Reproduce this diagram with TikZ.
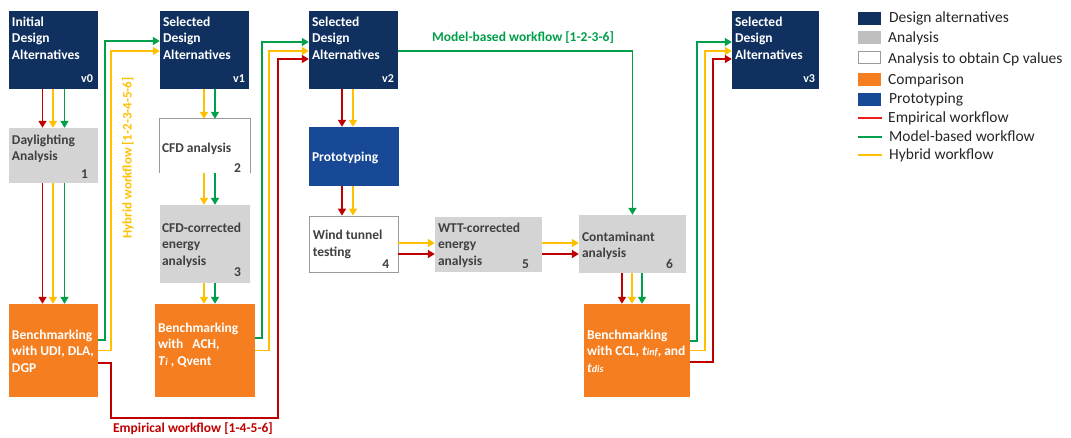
\documentclass[tikz,border=0pt]{standalone}
\usepackage{fontspec}
\setmainfont{Carlito}
\usetikzlibrary{arrows.meta,calc}

\definecolor{navy}{HTML}{10305F}
\definecolor{protoblue}{HTML}{184996}
\definecolor{compor}{HTML}{F47E20}
\definecolor{anagray}{HTML}{D4D4D4}
\definecolor{swgray}{HTML}{BFBFBF}
\definecolor{cpline}{HTML}{9A9A9A}
\definecolor{txtgray}{HTML}{404040}
\definecolor{empc}{HTML}{C00000}
\definecolor{modc}{HTML}{00A04A}
\definecolor{hybc}{HTML}{FFC000}
\definecolor{legred}{HTML}{F01A1A}
\definecolor{legtext}{HTML}{262626}

\newcommand{\boxfont}{\fontsize{13.5}{16.5}\selectfont\bfseries}
\newcommand{\smallit}[1]{{\fontsize{10}{10}\selectfont\itshape #1}}

\begin{document}
\begin{tikzpicture}[x=1pt,y=-1pt,
  blk/.style={rectangle, inner sep=0pt, draw=none},
  designbox/.style={blk, fill=navy},
  anabox/.style={blk, fill=anagray},
  cpbox/.style={blk, fill=white, draw=cpline, line width=0.8pt},
  compbox/.style={blk, fill=compor},
  protobox/.style={blk, fill=protoblue},
  bt/.style={font=\boxfont, align=left, anchor=north west, inner sep=0pt},
  wt/.style={bt, text=white},
  gt/.style={bt, text=txtgray},
  num/.style={font=\boxfont, anchor=base east, inner sep=0pt, text=txtgray},
  ver/.style={font=\fontsize{12}{12}\selectfont\bfseries, anchor=base east, inner sep=0pt, text=white},
  flow/.style={line width=1.6pt, -{Triangle[length=7pt,width=8pt]}},
  wire/.style={line width=1.5pt, -{Triangle[length=7pt,width=8pt]}},
  emp/.style={draw=empc},
  mod/.style={draw=modc},
  hyb/.style={draw=hybc},
  lbl/.style={font=\fontsize{13.5}{16}\selectfont\bfseries, inner sep=0pt},
  swatch/.style={rectangle, inner sep=0pt, minimum width=23pt, minimum height=13pt},
  legtxt/.style={font=\fontsize{15.5}{18}\selectfont, text=legtext, anchor=base west, inner sep=0pt}
]
\useasboundingbox[fill=white] (0,0) rectangle (1071,437);

% ---------- boxes ----------
\node[designbox, minimum width=89pt, minimum height=78pt] (v0) at (53.5,50) {};
\node[designbox, minimum width=89pt, minimum height=78pt] (v1) at (204.5,50) {};
\node[designbox, minimum width=89pt, minimum height=78pt] (v2) at (353.5,50) {};
\node[designbox, minimum width=87pt, minimum height=78pt] (v3) at (775.5,50) {};
\node[anabox, minimum width=89pt, minimum height=55pt] (day) at (53.5,155.5) {};
\node[blk, fill=white, minimum width=90pt, minimum height=54pt] (cfd) at (205,146) {};
\draw[cpline, line width=0.8pt] (cfd.south west) -- (cfd.north west) -- (cfd.north east) -- (cfd.south east);
\node[anabox, minimum width=90pt, minimum height=78pt] (cfdc) at (205,244) {};
\node[compbox, minimum width=89pt, minimum height=93pt] (b1) at (53.5,350.5) {};
\node[compbox, minimum width=100pt, minimum height=93pt] (b2) at (205,350.5) {};
\node[protobox, minimum width=90pt, minimum height=59pt] (proto) at (354,156.5) {};
\node[cpbox, minimum width=89pt, minimum height=56pt] (wtn) at (353.5,244) {};
\node[anabox, minimum width=107pt, minimum height=55pt] (wtt) at (488.5,244.5) {};
\node[anabox, minimum width=107pt, minimum height=58pt] (cont) at (632.5,244) {};
\node[compbox, minimum width=106pt, minimum height=93pt] (b3) at (637,350.5) {};

% ---------- box texts ----------
\node[wt] (v0t) at ([xshift=3pt,yshift=-3.45pt]v0.north west) {\strut Initial\\Design\\Alternatives};
\node[wt] (v1t) at ([xshift=3pt,yshift=-3.45pt]v1.north west) {\strut Selected\\Design\\Alternatives};
\node[wt] (v2t) at ([xshift=3pt,yshift=-3.45pt]v2.north west) {\strut Selected\\Design\\Alternatives};
\node[wt] (v3t) at ([xshift=3pt,yshift=-3.45pt]v3.north west) {\strut Selected\\Design\\Alternatives};
\node[ver] (v0n) at ([xshift=-5pt,yshift=7pt]v0.south east) {v0};
\node[ver] (v1n) at ([xshift=-4pt,yshift=7pt]v1.south east) {v1};
\node[ver] (v2n) at ([xshift=-4pt,yshift=7pt]v2.south east) {v2};
\node[ver] (v3n) at ([xshift=-4pt,yshift=7pt]v3.south east) {v3};

\node[gt] (dayt) at ([xshift=3pt,yshift=-4.45pt]day.north west) {\strut Daylighting\\Analysis};
\node[num] (dayn) at ([xshift=-10pt,yshift=5pt]day.south east) {1};
\node[gt] (cfdt) at ([xshift=2pt,yshift=-21.45pt]cfd.north west) {\strut CFD analysis};
\node[num] (cfdn) at ([xshift=-9pt,yshift=1pt]cfd.south east) {2};
\node[gt] (cfdct) at ([xshift=2pt,yshift=-15.45pt]cfdc.north west) {\strut CFD-corrected\\energy\\analysis};
\node[num] (cfdcn) at ([xshift=-9pt,yshift=7pt]cfdc.south east) {3};
\node[wt] (b1t) at ([xshift=3pt,yshift=-23.45pt]b1.north west) {\strut Benchmarking\\with UDI, DLA,\\DGP};
\node[wt] (b2t) at ([xshift=3pt,yshift=-16.45pt]b2.north west) {\strut Benchmarking\\with\ \ \ ACH,\\\textit{T}\smallit{i} , Qvent};
\node[wt] (protot) at ([xshift=3pt,yshift=-22.45pt]proto.north west) {\strut Prototyping};
\node[gt] (wtnt) at ([xshift=4pt,yshift=-12.45pt]wtn.north west) {\strut Wind tunnel\\testing};
\node[num] (wtnn) at ([xshift=-9pt,yshift=4pt]wtn.south east) {4};
\node[gt] (wttt) at ([xshift=3pt,yshift=-3.45pt]wtt.north west) {\strut WTT-corrected\\energy\\analysis};
\node[num] (wttn) at ([xshift=-13pt,yshift=4pt]wtt.south east) {5};
\node[gt] (contt) at ([xshift=3pt,yshift=-14.45pt]cont.north west) {\strut Contaminant\\analysis};
\node[num] (contn) at ([xshift=-13pt,yshift=5pt]cont.south east) {6};
\node[wt] (b3t) at ([xshift=3pt,yshift=-23.45pt]b3.north west) {\strut Benchmarking\\with CCL, \textit{t}\smallit{inf}, and\\\textit{t}\smallit{dis}};

% ---------- short vertical arrows ----------
\foreach \s/\d in {emp/-11, hyb/-0.5, mod/11}{
  \draw[flow,\s] ([xshift=\d pt]v0.south) -- ([xshift=\d pt]v0.south |- day.north);
  \draw[flow,\s] ([xshift=\d pt]day.south) -- ([xshift=\d pt]day.south |- b1.north);
}
\foreach \s/\d in {hyb/-0.5, mod/10.5}{
  \draw[flow,\s] ([xshift=\d pt]v1.south) -- ([xshift=\d pt]v1.south |- cfd.north);
  \draw[flow,\s] ([xshift=\d pt]v1.south |- cfd.south) -- ([xshift=\d pt]v1.south |- cfdc.north);
  \draw[flow,\s] ([xshift=\d pt]v1.south |- cfdc.south) -- ([xshift=\d pt]v1.south |- b2.north);
}
\foreach \s/\d in {emp/-11.5, hyb/-0.5}{
  \draw[flow,\s] ([xshift=\d pt]v2.south) -- ([xshift=\d pt]v2.south |- proto.north);
  \draw[flow,\s] ([xshift=\d pt]v2.south |- proto.south) -- ([xshift=\d pt]v2.south |- wtn.north);
}
\foreach \s/\d in {emp/-10.5, hyb/-0.5, mod/9.5}{
  \draw[flow,\s] ([xshift=\d pt]cont.south) -- ([xshift=\d pt]cont.south |- b3.north);
}

% ---------- horizontal arrows ----------
\draw[flow,hyb] ([yshift=1pt]wtn.east) -- ([yshift=1pt]wtn.east -| wtt.west);
\draw[flow,emp] ([yshift=-10pt]wtn.east) -- ([yshift=-10pt]wtn.east -| wtt.west);
\draw[flow,hyb] ([yshift=1.5pt]wtt.east) -- ([yshift=1.5pt]wtt.east -| cont.west);
\draw[flow,emp] ([yshift=-9.5pt]wtt.east) -- ([yshift=-9.5pt]wtt.east -| cont.west);

% ---------- workflow loops ----------
\draw[wire,mod] ([yshift=10.5pt]b1.east) -- ++(7,0) |- ([yshift=9pt]v1.west);
\draw[wire,hyb] (b1.east) -- ++(13,0) |- ([yshift=-1pt]v1.west);
\draw[wire,emp] ([yshift=-12.5pt]b1.east) -- ++(13,0) -- ++(0,55)
   -| ([xshift=-31pt,yshift=-9pt]v2.west) -- ([yshift=-9pt]v2.west);
\draw[wire,mod] ([yshift=12.5pt]b2.east) -- ++(7,0) |- ([yshift=8pt]v2.west);
\draw[wire,hyb] (b2.east) -- ++(14,0) |- ([yshift=-1pt]v2.west);
\draw[wire,mod] ([yshift=-1pt]v2.east) -| (cont.north);
\draw[wire,mod] ([yshift=9.5pt]b3.east) -- ++(7,0) |- ([yshift=8pt]v3.west);
\draw[wire,hyb] (b3.east) -- ++(15,0) |- ([yshift=-1pt]v3.west);
\draw[wire,emp] ([yshift=-11.5pt]b3.east) -- ++(23,0) |- ([yshift=-9pt]v3.west);

% ---------- workflow labels ----------
\node[lbl, text=modc] (lmod) at (523,38) {Model-based workflow [1-2-3-6]};
\node[lbl, text=empc] (lemp) at (193,429) {Empirical workflow [1-4-5-6]};
\node[lbl, text=hybc, rotate=90, font=\fontsize{13}{16}\selectfont\bfseries] (lhyb) at (128,158) {Hybrid workflow [1-2-3-4-5-6]};

% ---------- legend ----------
\node[swatch, fill=navy] (k1) at (869.5,18) {};
\node[swatch, fill=swgray] (k2) at (869.5,37.5) {};
\node[swatch, fill=white, draw=cpline, line width=0.8pt, minimum width=22pt, minimum height=12pt] (k3) at (869.5,57.5) {};
\node[swatch, fill=compor] (k4) at (869.5,79.5) {};
\node[swatch, fill=protoblue] (k5) at (869.5,99.5) {};
\coordinate (k6a) at (858,118); \coordinate (k6b) at (882,118);
\coordinate (k7a) at (858,137); \coordinate (k7b) at (882,137);
\coordinate (k8a) at (858,155); \coordinate (k8b) at (882,155);
\draw[legred, line width=1.2pt] (k6a) -- (k6b);
\draw[modc, line width=1.4pt] (k7a) -- (k7b);
\draw[hybc, line width=1.4pt] (k8a) -- (k8b);
\node[legtxt] (g1) at (889,22.5) {Design alternatives};
\node[legtxt] (g2) at (888,42.5) {Analysis};
\node[legtxt] (g3) at (888,63) {Analysis to obtain Cp values};
\node[legtxt] (g4) at (888,84.5) {Comparison};
\node[legtxt] (g5) at (889,103.5) {Prototyping};
\node[legtxt] (g6) at (888,122.5) {Empirical workflow};
\node[legtxt] (g7) at (889,141) {Model-based workflow};
\node[legtxt] (g8) at (889,159.5) {Hybrid workflow};
\end{tikzpicture}
\end{document}
